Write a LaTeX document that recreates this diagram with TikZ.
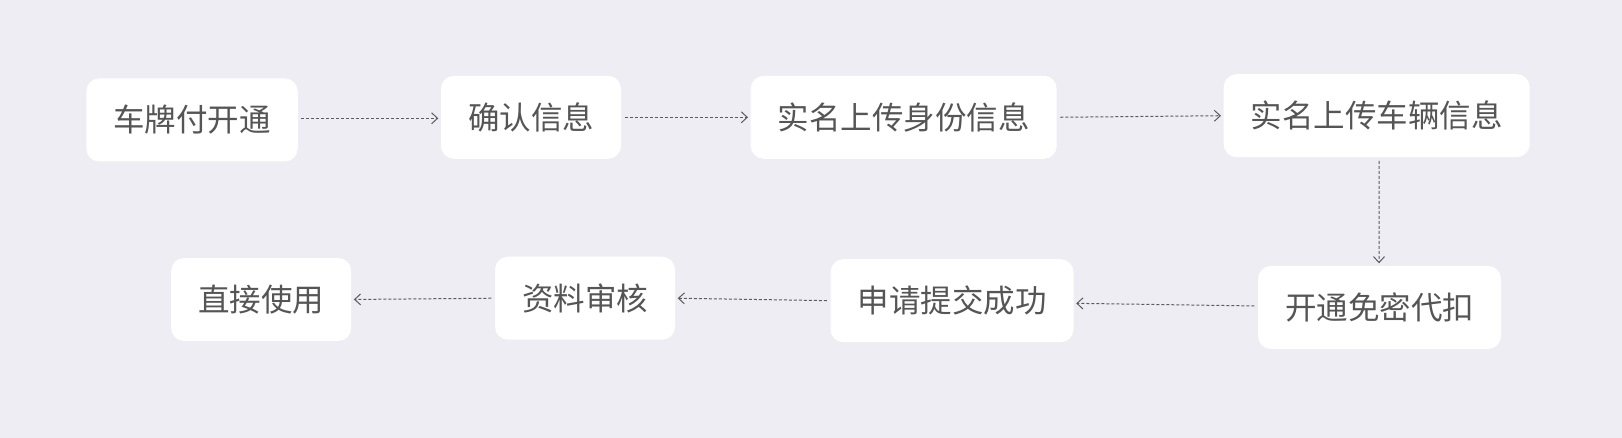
\documentclass[tikz,border=0pt]{standalone}
\usepackage{fontspec}
\usepackage{tikz}
\usetikzlibrary{positioning, arrows.meta}
\newfontfamily\cjk{Noto Sans CJK SC}
\definecolor{pagebg}{HTML}{EEEDF4}
\definecolor{labelgray}{HTML}{555555}
\definecolor{linegray}{HTML}{5C5C5C}

\tikzset{
  stepbox/.style={fill=white, draw=none, rounded corners=13pt, minimum height=83pt,
    inner xsep=27pt, inner ysep=0pt, text=labelgray, font=\cjk\fontsize{31.5pt}{36pt}\selectfont},
  flow/.style={draw=linegray, line width=1pt, dash pattern=on 3pt off 2pt,
    shorten <=3.5pt, shorten >=2.5pt, -{Straight Barb[length=6pt,width=11pt]}}
}

\begin{document}
\begin{tikzpicture}[x=1pt, y=1pt]
\fill[pagebg] (0,0) rectangle (1622,438);

\node[stepbox] (kaitong) at (192,318) {车牌付开通};
\node[stepbox] (queren) at (531,320.7) {确认信息};
\node[stepbox] (shenfen) at (903.7,320.7) {实名上传身份信息};
\node[stepbox] (cheliang) at (1376.7,322.3) {实名上传车辆信息};

\node[stepbox] (mianmi) at (1379.5,130.5) {开通免密代扣};
\node[stepbox] (tijiao) at (952,137.3) {申请提交成功};
\node[stepbox] (shenhe) at (585,139.8) {资料审核};
\node[stepbox] (shiyong) at (261.2,138.5) {直接使用};

\draw[flow] ([yshift=1.7pt]kaitong.east) -- ([yshift=-1pt]queren.west);
\draw[flow] (queren.east) -- (shenfen.west);
\draw[flow] (shenfen.east) -- (cheliang.west);
\draw[flow] ([xshift=2.5pt]cheliang.south) -- ([xshift=-0.5pt]mianmi.north);
\draw[flow] ([yshift=1.5pt]mianmi.west) -- ([yshift=-2.6pt]tijiao.east);
\draw[flow] (tijiao.west) -- (shenhe.east);
\draw[flow] (shenhe.west) -- (shiyong.east);
\end{tikzpicture}
\end{document}
